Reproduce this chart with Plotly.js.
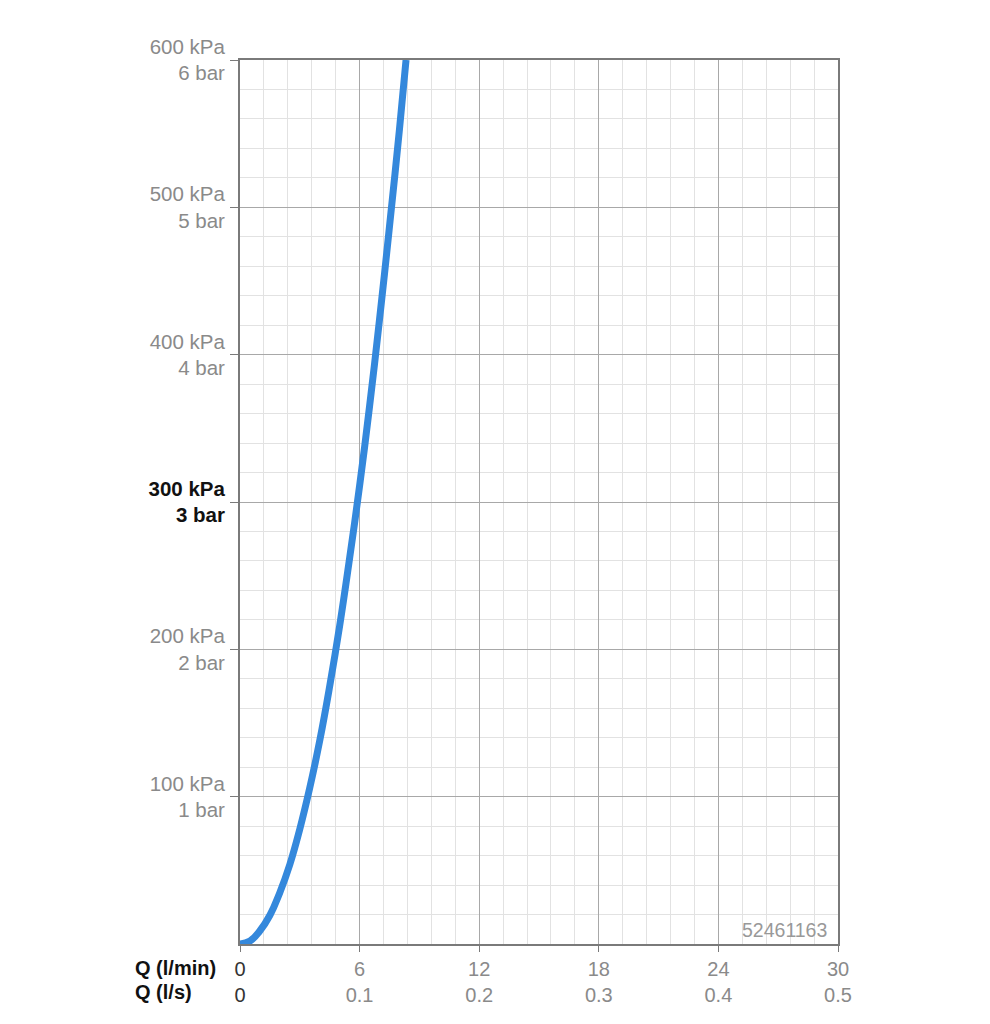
<!DOCTYPE html>
<html>
<head>
<meta charset="utf-8">
<script src="https://cdn.plot.ly/plotly-3.0.1.min.js"></script>
<style>html,body{margin:0;padding:0;background:#fff;}#chart{width:990px;height:1024px;}</style>
</head>
<body>
<div id="chart"></div>
<script>
// Flow rate (l/min) and pressure loss (kPa)
const flowLpm = [0, 0.5, 1, 1.5, 2, 2.5, 3, 3.5, 4, 4.5, 5, 5.5, 6, 6.5, 7, 7.5, 8, 8.33];
const pressureKpa = [0, 2, 9, 19.5, 35, 54, 78, 106, 138, 175, 216, 262, 311, 365, 424, 487, 553, 600];

const xTickVals = [0, 6, 12, 18, 24, 30];
const xTickLpm = ["0", "6", "12", "18", "24", "30"];
const xTickLps = ["0", "0.1", "0.2", "0.3", "0.4", "0.5"];
const yTickVals = [100, 200, 300, 400, 500, 600];
const yTickKpa = ["100 kPa", "200 kPa", "300 kPa", "400 kPa", "500 kPa", "600 kPa"];
const yTickBar = ["1 bar", "2 bar", "3 bar", "4 bar", "5 bar", "6 bar"];
const productCode = "52461163";

const xTickText = xTickVals.map((v, i) => i === 0
  ? `<span style="color:#333">${xTickLpm[i]}</span><br><span style="color:#333">${xTickLps[i]}</span>`
  : `${xTickLpm[i]}<br>${xTickLps[i]}`);
const yTickText = yTickVals.map((v, i) => v === 300
  ? `<b><span style="color:#111">${yTickKpa[i]}</span></b><br><b><span style="color:#111">${yTickBar[i]}</span></b>`
  : `${yTickKpa[i]}<br>${yTickBar[i]}`);

const trace = {
  x: flowLpm, y: pressureKpa, type: 'scatter', mode: 'lines',
  line: {color: '#3488dc', width: 7, shape: 'spline', smoothing: 1.3},
  hoverinfo: 'skip'
};

const fam = 'Liberation Sans, Arial, sans-serif';
const yfont = {family: fam, size: 20.5, color: '#8a8a8a'};
const xfont = {family: fam, size: 20, color: '#8a8a8a'};

const layout = {
  width: 990, height: 1024,
  margin: {l: 240, r: 152, t: 60, b: 80},
  paper_bgcolor: '#ffffff', plot_bgcolor: '#ffffff',
  showlegend: false,
  font: xfont,
  xaxis: {
    range: [0, 30], tickmode: 'array', tickvals: xTickVals, ticktext: xTickText,
    showgrid: true, gridcolor: '#a8a8a8', gridwidth: 1,
    minor: {dtick: 1.2, showgrid: true, gridcolor: '#e2e2e2', gridwidth: 1, ticks: ''},
    showline: true, linecolor: '#7a7a7a', linewidth: 2, mirror: true,
    ticks: 'outside', ticklen: 6, tickcolor: '#7a7a7a',
    zeroline: false, tickfont: xfont, fixedrange: true
  },
  yaxis: {
    range: [0, 600], tickmode: 'array', tickvals: yTickVals, ticktext: yTickText,
    showgrid: true, gridcolor: '#a8a8a8', gridwidth: 1,
    minor: {dtick: 20, showgrid: true, gridcolor: '#e2e2e2', gridwidth: 1, ticks: ''},
    showline: true, linecolor: '#7a7a7a', linewidth: 2, mirror: true,
    ticks: 'outside', ticklen: 8, tickcolor: '#7a7a7a',
    ticklabelstandoff: 1,
    zeroline: false, tickfont: yfont, fixedrange: true
  },
  annotations: [
    {xref: 'paper', yref: 'paper', x: -0.179, y: 0, xanchor: 'left', yanchor: 'top', yshift: -11,
     text: '<b>Q (l/min)</b>', showarrow: false, font: {family: fam, size: 20, color: '#111'}},
    {xref: 'paper', yref: 'paper', x: -0.179, y: 0, xanchor: 'left', yanchor: 'top', yshift: -35,
     text: '<b>Q (l/s)</b>', showarrow: false, font: {family: fam, size: 20, color: '#111'}},
    {xref: 'paper', yref: 'paper', x: 0.985, y: 0, xanchor: 'right', yanchor: 'bottom', yshift: 1,
     text: productCode, showarrow: false, font: {family: fam, size: 19.5, color: '#999999'}}
  ]
};

Plotly.newPlot('chart', [trace], layout, {displayModeBar: false, staticPlot: true});
</script>
</body>
</html>
